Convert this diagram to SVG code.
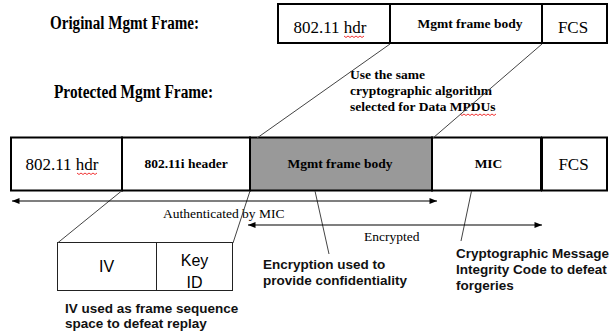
<svg xmlns="http://www.w3.org/2000/svg" width="610" height="334" viewBox="0 0 610 334">
  <style>
    .cell{fill:#fff;stroke:#000;stroke-width:2}
    .shade{fill:#999}
    .title{font-size:18px;font-weight:bold}
    .plain{font-size:17px}
    .field{font-size:13.5px;font-weight:bold}
    .lbl{font-size:13.5px}
    .note{font-size:13.5px;font-weight:bold;fill:#111}
    .mid{text-anchor:middle}
    .lead{stroke:#444;stroke-width:1;fill:none}
    .span{stroke:#000;stroke-width:1.2;marker-start:url(#ah);marker-end:url(#ah)}
    .thin{fill:#fff;stroke:#222;stroke-width:1}
    .squig{fill:none;stroke:#e00;stroke-width:0.8}
  </style>
  <defs>
    <marker id="ah" viewBox="0 0 10 8" refX="10" refY="4" markerWidth="9" markerHeight="6" orient="auto-start-reverse" markerUnits="userSpaceOnUse">
      <path d="M0,0 L10,4 L0,8 z" fill="#000"/>
    </marker>
  </defs>

  <g font-family="'Liberation Serif', 'Times New Roman', serif">
    <!-- headings -->
    <text class="title" x="50" y="29" textLength="149" lengthAdjust="spacingAndGlyphs">Original Mgmt Frame:</text>
    <text class="title" x="54" y="98" textLength="159" lengthAdjust="spacingAndGlyphs">Protected Mgmt Frame:</text>

    <!-- original frame -->
    <g id="orig-frame">
      <rect class="cell" x="278" y="4" width="112" height="39"/>
      <rect class="cell" x="390" y="4" width="152" height="39"/>
      <rect class="cell" x="542" y="4" width="65" height="39"/>
      <text class="plain mid" x="330" y="33">802.11 hdr</text>
      <path class="squig" d="M344,36 l2,1.5 l2,-1.5 l2,1.5 l2,-1.5 l2,1.5 l2,-1.5 l2,1.5 l2,-1.5 l2,1.5 l2,-1.5"/>
      <text class="field mid" x="470" y="27.5" font-size="14">Mgmt frame body</text>
      <text class="plain mid" x="573" y="33">FCS</text>
    </g>

    <!-- protected frame -->
    <g id="prot-frame">
      <rect class="cell" x="11" y="137.5" width="111" height="53"/>
      <rect class="cell" x="122" y="137.5" width="128" height="53"/>
      <rect class="cell shade" x="250" y="137.5" width="182" height="53"/>
      <rect class="cell" x="432" y="137.5" width="109" height="53"/>
      <rect class="cell" x="542" y="137.5" width="65" height="53"/>
      <text class="plain mid" x="62" y="170">802.11 hdr</text>
      <path class="squig" d="M77,173 l2,1.5 l2,-1.5 l2,1.5 l2,-1.5 l2,1.5 l2,-1.5 l2,1.5 l2,-1.5 l2,1.5 l2,-1.5"/>
      <text class="field mid" x="186" y="168">802.11i header</text>
      <text class="field mid" x="340" y="168">Mgmt frame body</text>
      <text class="field mid" x="488.5" y="168">MIC</text>
      <text class="plain mid" x="573.5" y="170">FCS</text>
    </g>

    <!-- algorithm note -->
    <g id="algo-note">
      <text class="field" x="350" y="79">Use the same</text>
      <text class="field" x="350" y="95">cryptographic algorithm</text>
      <text class="field" x="350" y="111">selected for Data MPDUs</text>
      <path class="squig" d="M460,114 l2,1.5 l2,-1.5 l2,1.5 l2,-1.5 l2,1.5 l2,-1.5 l2,1.5 l2,-1.5 l2,1.5 l2,-1.5 l2,1.5 l2,-1.5 l2,1.5 l2,-1.5 l2,1.5 l2,-1.5 l2,1.5 l2,-1.5"/>
    </g>
    <text class="lbl" x="163" y="218">Authenticated by MIC</text>
    <text class="lbl" x="364" y="241">Encrypted</text>
  </g>

  <g font-family="'Liberation Sans', Arial, sans-serif">
    <!-- IV / Key ID breakout -->
    <g id="iv-box">
      <rect class="thin" x="57.5" y="242.5" width="175" height="48"/>
      <line x1="156.5" y1="242.5" x2="156.5" y2="290.5" stroke="#222" stroke-width="1"/>
      <text class="mid" x="106.5" y="271.5" font-size="16">IV</text>
      <text class="mid" x="194.5" y="265.5" font-size="16">Key</text>
      <text class="mid" x="194.5" y="287.5" font-size="16">ID</text>
    </g>

    <g id="iv-note">
      <text class="note" x="65" y="313">IV used as frame sequence</text>
      <text class="note" x="65" y="328">space to defeat replay</text>
    </g>
    <g id="enc-note">
      <text class="note" x="263" y="269">Encryption used to</text>
      <text class="note" x="263" y="285">provide confidentiality</text>
    </g>
    <g id="mic-note">
      <text class="note" x="456" y="258">Cryptographic Message</text>
      <text class="note" x="456" y="274">Integrity Code to defeat</text>
      <text class="note" x="456" y="289.5">forgeries</text>
    </g>
  </g>

  <!-- connectors -->
  <g id="connectors">
    <line class="lead" x1="390" y1="44" x2="257" y2="138"/>
    <line class="lead" x1="542" y1="44" x2="433" y2="138"/>
    <line class="lead" x1="121.5" y1="191" x2="57.5" y2="243"/>
    <line class="lead" x1="250" y1="191" x2="233" y2="243"/>
    <line class="lead" x1="315" y1="191" x2="329" y2="254"/>
    <line class="lead" x1="471.5" y1="191" x2="461" y2="241"/>
    <line class="span" x1="12" y1="201" x2="437" y2="201"/>
    <line class="span" x1="248" y1="225" x2="542" y2="225"/>
  </g>
</svg>
